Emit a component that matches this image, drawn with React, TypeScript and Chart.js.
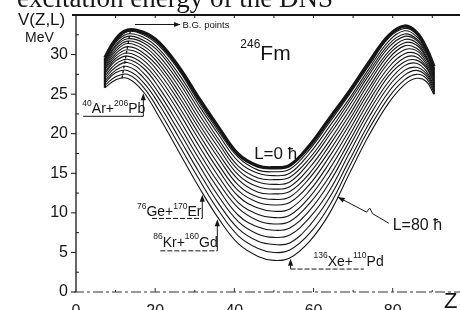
import { useEffect, useRef } from "react";
import { Chart, registerables } from "chart.js";
Chart.register(...registerables);

// ---- data ----
const zValues = [7.3, 10, 13, 17, 21, 26, 31, 36, 41, 46, 50, 54, 59, 64, 69, 74, 79, 83, 86, 88.5, 90.4];
const lValues = [0, 5, 10, 15, 20, 25, 30, 35, 40, 45, 50, 55, 60, 65, 70, 75, 80];

const vL0 = [29.6, 31.9, 33.1, 32.8, 31.5, 28.4, 24.5, 20.8, 17.4, 15.9, 15.7, 16.0, 18.5, 21.9, 25.3, 29.0, 32.4, 33.6, 32.8, 30.8, 28.5];
const vL5 = [29.5, 31.7, 32.9, 32.5, 31.1, 28.0, 24.0, 20.3, 17.0, 15.4, 15.2, 15.5, 18.0, 21.4, 24.9, 28.6, 32.1, 33.3, 32.6, 30.6, 28.4];
const vL10 = [29.3, 31.5, 32.6, 32.2, 30.7, 27.5, 23.6, 19.9, 16.5, 15.0, 14.7, 15.0, 17.5, 20.9, 24.4, 28.2, 31.7, 33.0, 32.3, 30.5, 28.2];
const vL15 = [29.1, 31.2, 32.3, 31.8, 30.3, 27.0, 23.1, 19.3, 15.9, 14.4, 14.2, 14.5, 16.9, 20.3, 24.0, 27.8, 31.3, 32.6, 32.0, 30.3, 28.1];
const vL20 = [28.9, 31.0, 32.0, 31.5, 29.8, 26.5, 22.5, 18.8, 15.4, 13.9, 13.6, 13.9, 16.4, 19.8, 23.5, 27.4, 30.9, 32.3, 31.8, 30.1, 27.9];
const vL25 = [28.7, 30.7, 31.7, 31.1, 29.3, 25.9, 21.9, 18.2, 14.8, 13.3, 13.0, 13.3, 15.7, 19.1, 22.9, 26.9, 30.4, 31.9, 31.5, 29.8, 27.7];
const vL30 = [28.5, 30.4, 31.4, 30.7, 28.8, 25.3, 21.3, 17.5, 14.2, 12.6, 12.4, 12.7, 15.0, 18.5, 22.3, 26.4, 30.0, 31.5, 31.2, 29.6, 27.5];
const vL35 = [28.3, 30.1, 31.0, 30.2, 28.3, 24.7, 20.7, 16.9, 13.5, 12.0, 11.7, 12.0, 14.4, 17.8, 21.7, 25.8, 29.5, 31.1, 30.8, 29.4, 27.3];
const vL40 = [28.1, 29.8, 30.6, 29.8, 27.7, 24.1, 20.0, 16.1, 12.8, 11.3, 11.0, 11.3, 13.6, 17.1, 21.1, 25.3, 29.0, 30.6, 30.5, 29.1, 27.1];
const vL45 = [27.8, 29.5, 30.2, 29.3, 27.1, 23.4, 19.3, 15.4, 12.1, 10.6, 10.2, 10.5, 12.8, 16.3, 20.4, 24.7, 28.4, 30.1, 30.1, 28.8, 26.9];
const vL50 = [27.6, 29.2, 29.8, 28.8, 26.5, 22.7, 18.5, 14.6, 11.3, 9.8, 9.4, 9.7, 12.0, 15.5, 19.7, 24.1, 27.8, 29.6, 29.7, 28.5, 26.6];
const vL55 = [27.3, 28.8, 29.4, 28.3, 25.8, 21.9, 17.7, 13.8, 10.6, 9.0, 8.6, 8.9, 11.2, 14.6, 19.0, 23.4, 27.3, 29.1, 29.3, 28.3, 26.4];
const vL60 = [27.0, 28.4, 29.0, 27.7, 25.1, 21.1, 16.9, 13.0, 9.7, 8.2, 7.8, 8.1, 10.3, 13.8, 18.3, 22.8, 26.6, 28.6, 28.9, 27.9, 26.1];
const vL65 = [26.7, 28.0, 28.5, 27.1, 24.4, 20.3, 16.1, 12.1, 8.9, 7.3, 6.9, 7.2, 9.4, 12.8, 17.5, 22.1, 26.0, 28.0, 28.4, 27.6, 25.9];
const vL70 = [26.4, 27.7, 28.0, 26.5, 23.7, 19.5, 15.2, 11.2, 8.0, 6.4, 6.0, 6.2, 8.4, 11.9, 16.6, 21.3, 25.3, 27.4, 28.0, 27.3, 25.6];
const vL75 = [26.1, 27.2, 27.5, 25.9, 22.9, 18.6, 14.3, 10.3, 7.1, 5.5, 5.0, 5.3, 7.4, 10.9, 15.8, 20.6, 24.6, 26.8, 27.5, 27.0, 25.3];
const vL80 = [25.8, 26.8, 27.0, 25.3, 22.1, 17.7, 13.3, 9.3, 6.1, 4.5, 4.0, 4.3, 6.4, 9.9, 14.9, 19.8, 23.9, 26.2, 27.0, 26.6, 25.0];

const curves = [vL0, vL5, vL10, vL15, vL20, vL25, vL30, vL35, vL40, vL45, vL50, vL55, vL60, vL65, vL70, vL75, vL80];

// barrier (B.G.) points: lowest curve peak to highest curve peak
const bgZ = [11.6, 13.8];
const bgV = [27.0, 33.2];

const xTickLabels = [0, 20, 40, 60, 80];
const xMinorTicks = [10, 30, 50, 70, 90];
const yTickLabels = [0, 5, 10, 15, 20, 25, 30];
const yMinorTicks = [2.5, 7.5, 12.5, 17.5, 22.5, 27.5, 32.5];

const SANS = "'Liberation Sans', Arial, sans-serif";
const SERIF = "'Liberation Serif', 'Times New Roman', serif";
const INK = "#161616";

// reaction labels: text in data units, underline + arrow to the L=80 curve
const reactionNotes = [
  { parts: [["40", 1], ["Ar+", 0], ["206", 1], ["Pb", 0]], tz: 1.6, tv: 22.6, uz0: 1.8, uz1: 17.0, uv: 22.2, az: 17.0, av: 25.1, dash: false },
  { parts: [["76", 1], ["Ge+", 0], ["170", 1], ["Er", 0]], tz: 15.4, tv: 9.6, uz0: 19.2, uz1: 31.9, uv: 9.3, az: 31.9, av: 12.3, dash: true },
  { parts: [["86", 1], ["Kr+", 0], ["160", 1], ["Gd", 0]], tz: 19.5, tv: 5.7, uz0: 21.3, uz1: 35.7, uv: 5.2, az: 35.7, av: 9.2, dash: true },
  { parts: [["136", 1], ["Xe+", 0], ["110", 1], ["Pd", 0]], tz: 60.0, tv: 3.3, uz0: 54.2, uz1: 72.7, uv: 2.9, az: 54.2, av: 4.2, dash: true },
];

const l80Pointer = [[79.0, 8.7], [74.9, 9.9], [74.2, 10.6], [73.4, 10.1], [66.1, 12.0]];

function drawRich(ctx: CanvasRenderingContext2D, x: number, y: number, parts: any[], size: number, supSize: number, rise: number) {
  let cx = x;
  for (const [t, sup] of parts) {
    ctx.font = `${sup ? supSize : size}px ${SANS}`;
    ctx.fillText(t, cx, sup ? y - rise : y);
    cx += ctx.measureText(t).width;
  }
}

function arrowHead(ctx: CanvasRenderingContext2D, x: number, y: number, angle: number, len = 6, half = 2.4) {
  const c = Math.cos(angle), s = Math.sin(angle);
  ctx.beginPath();
  ctx.moveTo(x, y);
  ctx.lineTo(x - len * c + half * s, y - len * s - half * c);
  ctx.lineTo(x - len * c - half * s, y - len * s + half * c);
  ctx.closePath();
  ctx.fill();
}

const framePlugin = {
  id: "frame",
  beforeDatasetsDraw(chart: any) {
    const { ctx, chartArea, scales } = chart;
    const { left, right, top, bottom } = chartArea;
    const x = scales.x, y = scales.y;
    ctx.save();
    ctx.strokeStyle = INK;
    ctx.lineWidth = 2;
    ctx.beginPath();
    ctx.moveTo(left - 4, top);
    ctx.lineTo(right, top);
    ctx.stroke();
    ctx.lineWidth = 1;
    for (const v of xMinorTicks.concat(xTickLabels.slice(1))) {
      const px = x.getPixelForValue(v);
      ctx.beginPath();
      ctx.moveTo(px, top);
      ctx.lineTo(px, top + 3);
      ctx.stroke();
    }
    ctx.lineWidth = 1.3;
    ctx.beginPath();
    ctx.moveTo(left, top);
    ctx.lineTo(left, bottom);
    ctx.stroke();
    ctx.lineWidth = 1;
    for (const v of yTickLabels) {
      const py = y.getPixelForValue(v);
      ctx.beginPath();
      ctx.moveTo(left - 5, py);
      ctx.lineTo(left, py);
      ctx.stroke();
    }
    for (const v of yMinorTicks) {
      const py = y.getPixelForValue(v);
      ctx.beginPath();
      ctx.moveTo(left, py);
      ctx.lineTo(left + 3, py);
      ctx.stroke();
    }
    ctx.strokeStyle = "#333";
    ctx.setLineDash([10, 3, 3, 3]);
    ctx.beginPath();
    ctx.moveTo(left - 2, bottom);
    ctx.lineTo(right, bottom);
    ctx.stroke();
    ctx.setLineDash([]);
    for (const v of xTickLabels.slice(1)) {
      const px = x.getPixelForValue(v);
      ctx.beginPath();
      ctx.moveTo(px, bottom);
      ctx.lineTo(px, bottom - 4);
      ctx.stroke();
    }
    for (const v of xMinorTicks) {
      const px = x.getPixelForValue(v);
      ctx.beginPath();
      ctx.moveTo(px, bottom);
      ctx.lineTo(px, bottom - 2);
      ctx.stroke();
    }
    ctx.restore();
  },
};

const notesPlugin = {
  id: "notes",
  afterDraw(chart: any) {
    const { ctx, scales } = chart;
    const X = (v: number) => scales.x.getPixelForValue(v);
    const Y = (v: number) => scales.y.getPixelForValue(v);
    ctx.save();
    ctx.fillStyle = INK;
    ctx.strokeStyle = INK;
    ctx.textBaseline = "alphabetic";
    ctx.textAlign = "left";

    ctx.font = `27px ${SERIF}`;
    ctx.fillText("excitation energy of the DNS", 17, 7);

    ctx.font = `17px ${SANS}`;
    ctx.fillText("V(Z,L)", 18, 25);
    ctx.font = `14px ${SANS}`;
    ctx.fillText("MeV", 25, 42);
    ctx.font = `22px ${SANS}`;
    ctx.fillText("Z", 444, 308);

    drawRich(ctx, X(41.5), Y(29.3), [["246", 1], ["Fm", 0]], 21, 12, 12);

    ctx.font = `17px ${SANS}`;
    ctx.fillText("L=0 \u0127", X(45), Y(16.8));
    ctx.font = `16px ${SANS}`;
    ctx.fillText("L=80 \u0127", X(80), Y(7.8));

    ctx.lineWidth = 1;
    ctx.beginPath();
    l80Pointer.forEach(([z, v], i) => (i ? ctx.lineTo(X(z), Y(v)) : ctx.moveTo(X(z), Y(v))));
    ctx.stroke();
    const n = l80Pointer.length;
    const [tz, tv] = l80Pointer[n - 1];
    const [pz, pv] = l80Pointer[n - 2];
    arrowHead(ctx, X(tz), Y(tv), Math.atan2(Y(tv) - Y(pv), X(tz) - X(pz)), 7, 2.6);

    ctx.beginPath();
    ctx.moveTo(X(14.9), Y(33.8));
    ctx.lineTo(X(26.3), Y(33.8));
    ctx.stroke();
    arrowHead(ctx, X(26.3), Y(33.8), 0, 6, 2.5);
    ctx.font = `9.5px ${SANS}`;
    ctx.fillText("B.G. points", X(26.9), Y(33.4));

    for (const r of reactionNotes) {
      drawRich(ctx, X(r.tz), Y(r.tv), r.parts, 14, 8.5, 7.5);
      ctx.lineWidth = 1;
      ctx.setLineDash(r.dash ? [5, 2] : []);
      ctx.beginPath();
      ctx.moveTo(X(r.uz0), Y(r.uv));
      ctx.lineTo(X(r.uz1), Y(r.uv));
      ctx.stroke();
      ctx.setLineDash([]);
      ctx.beginPath();
      ctx.moveTo(X(r.az), Y(r.uv));
      ctx.lineTo(X(r.az), Y(r.av) + 3);
      ctx.stroke();
      arrowHead(ctx, X(r.az), Y(r.av), -Math.PI / 2, 7, 2.6);
    }
    ctx.restore();
  },
};

export default function App() {
  const ref = useRef<HTMLCanvasElement>(null);
  useEffect(() => {
    const canvas = ref.current;
    if (!canvas) return;
    const datasets: any[] = curves.map((vals, i) => ({
      label: `L=${lValues[i]}`,
      data: zValues.map((z, j) => ({ x: z, y: vals[j] })),
      borderColor: INK,
      borderWidth: i === 0 ? 3.4 : 1.1,
      pointRadius: 0,
      tension: 0.4,
      fill: false,
    }));
    datasets.push({
      label: "B.G. points",
      data: bgZ.map((z, j) => ({ x: z, y: bgV[j] })),
      borderColor: INK,
      borderWidth: 1.3,
      borderDash: [3, 2],
      pointRadius: 0,
      fill: false,
    });
    const last = zValues.length - 1;
    datasets.push({
      label: "start",
      data: [{ x: zValues[0], y: vL0[0] }, { x: zValues[0], y: vL80[0] }],
      borderColor: INK,
      borderWidth: 2.2,
      pointRadius: 0,
      fill: false,
    });
    datasets.push({
      label: "end",
      data: [{ x: zValues[last], y: vL0[last] }, { x: zValues[last], y: vL80[last] }],
      borderColor: INK,
      borderWidth: 2,
      pointRadius: 0,
      fill: false,
    });

    const chart = new Chart(canvas, {
      type: "line",
      data: { datasets },
      options: {
        responsive: false,
        devicePixelRatio: 1,
        animation: false,
        layout: { padding: { top: 15, right: 0, bottom: 0, left: 0 } },
        plugins: { legend: { display: false }, tooltip: { enabled: false } },
        scales: {
          x: {
            type: "linear",
            min: 0,
            max: 97,
            grid: { display: false, drawTicks: true, tickLength: 3 },
            border: { display: false },
            ticks: {
              stepSize: 20,
              includeBounds: false,
              padding: 7,
              maxRotation: 0,
              color: INK,
              font: { family: SANS, size: 16 },
              callback: (v: any) => (xTickLabels.includes(v) ? String(v) : ""),
            },
            afterFit: (s: any) => { s.height = 18; },
          },
          y: {
            type: "linear",
            min: 0,
            max: 35,
            grid: { display: false, drawTicks: true, tickLength: 5 },
            border: { display: false },
            ticks: {
              stepSize: 5,
              includeBounds: false,
              padding: 3,
              color: INK,
              font: { family: SANS, size: 16 },
              callback: (v: any) => (yTickLabels.includes(v) ? String(v) : ""),
            },
            afterFit: (s: any) => { s.width = 76; },
          },
        },
      },
      plugins: [framePlugin, notesPlugin],
    });
    return () => chart.destroy();
  }, []);
  return (
    <div style={{ position: "fixed", left: 0, top: 0, width: 460, height: 310, background: "#fff", overflow: "hidden" }}>
      <canvas ref={ref} width={460} height={310} style={{ display: "block", width: 460, height: 310 }} />
    </div>
  );
}
